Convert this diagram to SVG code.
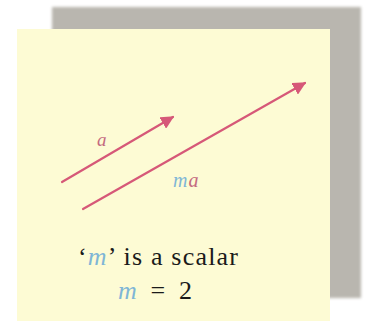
<svg xmlns="http://www.w3.org/2000/svg" width="367" height="331" viewBox="0 0 367 331">
<style>
.vec{stroke:#d65878;stroke-width:2.2;fill:none;stroke-linecap:round}
.t{font-family:"Liberation Serif","Times New Roman",serif;fill:#1a1a1a}
.var{font-style:italic;fill:#7fb6d6}
.va{font-style:italic;fill:#c46a80}
</style>
<defs>
<marker id="ah" viewBox="0 0 10 10" refX="9" refY="5" markerWidth="6" markerHeight="6" orient="auto" markerUnits="strokeWidth">
<path d="M0,0 L10,5 L0,10 Z" fill="#d65878"/>
</marker>
<filter id="blur" x="-5%" y="-5%" width="110%" height="110%"><feGaussianBlur stdDeviation="1.5"/></filter>
</defs>
<rect width="367" height="331" fill="#ffffff"/>
<g id="shadow"><rect x="52" y="7" width="309" height="291" fill="#b9b6af" filter="url(#blur)"/></g>
<g id="card"><rect x="17" y="29" width="313" height="292" fill="#fdfbd4"/></g>
<g id="connectors">
<line id="vec-a" class="vec" x1="62" y1="182" x2="173" y2="117" marker-end="url(#ah)"/>
<line id="vec-ma" class="vec" x1="83" y1="209" x2="305" y2="83" marker-end="url(#ah)"/>
</g>
<g id="label-a"><text class="t va" x="97" y="146" font-size="19">a</text></g>
<g id="label-ma"><text class="t" x="173" y="187" font-size="20" letter-spacing="1"><tspan class="var">m</tspan><tspan class="va">a</tspan></text></g>
<g id="caption">
<text class="t" x="78" y="265" font-size="26" textLength="160" lengthAdjust="spacing">‘<tspan class="var">m</tspan>’ is a scalar</text>
<text class="t" x="118" y="299" font-size="26" textLength="74" lengthAdjust="spacing"><tspan class="var">m</tspan> = 2</text>
</g>
</svg>
